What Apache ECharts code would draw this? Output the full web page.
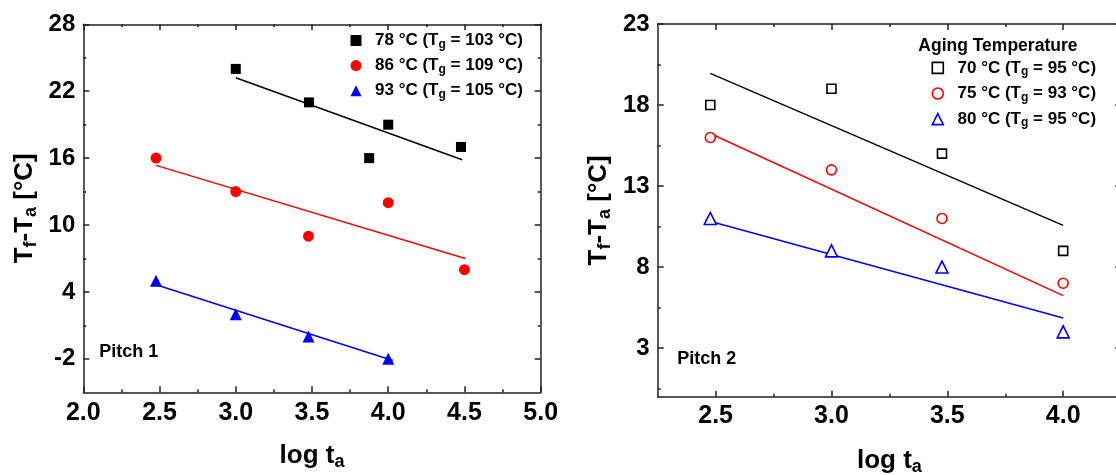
<!DOCTYPE html>
<html><head><meta charset="utf-8">
<script src="https://cdn.jsdelivr.net/npm/echarts@6/dist/echarts.min.js"></script>
<style>html,body{margin:0;padding:0;background:#fff}#c{width:1116px;height:475px}</style>
</head><body><div id="c"></div>
<script>
// ---------- Pitch 1 (left panel) ----------
const p1XTicks = [2.0, 2.5, 3.0, 3.5, 4.0, 4.5, 5.0];
const p1XMinor = [2.25, 2.75, 3.25, 3.75, 4.25, 4.75];
const p1YTicks = [-2, 4, 10, 16, 22, 28];
const p1YMinor = [1, 7, 13, 19, 25];
const p1Names = ['78 °C (Tg = 103 °C)', '86 °C (Tg = 109 °C)', '93 °C (Tg = 105 °C)'];
const p1BlackX = [3.0, 3.48, 3.875, 4.0, 4.477];
const p1BlackY = [24, 21, 16, 19, 17];
const p1RedX = [2.477, 3.0, 3.477, 4.0, 4.5];
const p1RedY = [16, 13, 9, 12, 6];
const p1BlueX = [2.477, 3.0, 3.477, 4.0];
const p1BlueY = [5, 2, 0, -2];
const p1BlackFitX = [3.0, 4.485];
const p1BlackFitY = [23.2, 15.85];
const p1RedFitX = [2.477, 4.505];
const p1RedFitY = [15.35, 7.0];
const p1BlueFitX = [2.477, 4.03];
const p1BlueFitY = [4.65, -2.15];

// ---------- Pitch 2 (right panel) ----------
const p2XTicks = [2.5, 3.0, 3.5, 4.0];
const p2XMinor = [2.75, 3.25, 3.75];
const p2YTicks = [3, 8, 13, 18, 23];
const p2YMinor = [0.5, 5.5, 10.5, 15.5, 20.5];
const p2Names = ['70 °C (Tg = 95 °C)', '75 °C (Tg = 93 °C)', '80 °C (Tg = 95 °C)'];
const p2X = [2.477, 3.0, 3.477, 4.0];
const p2BlackY = [18, 19, 15, 9];
const p2RedY = [16, 14, 11, 7];
const p2BlueY = [11, 9, 8, 4];
const p2BlackFitX = [2.477, 4.0];
const p2BlackFitY = [19.95, 10.57];
const p2RedFitX = [2.477, 4.0];
const p2RedFitY = [16.24, 6.24];
const p2BlueFitX = [2.456, 4.0];
const p2BlueFitY = [10.9, 4.86];

const FONT = '"Liberation Sans", Arial, Helvetica, sans-serif';
const zip = (xs, ys) => xs.map((x, i) => [x, ys[i]]);
const axisLineStyle = { color: '#222', width: 1.5 };

const xAxes = [], yAxes = [];
function axisSet(list, grid, pos, min, max, major, minor, labelCfg, nameCfg) {
  const base = { type: 'value', gridIndex: grid, position: pos, min: min, max: max,
    splitLine: { show: false }, axisPointer: { show: false } };
  list.push(Object.assign({}, base, {
    axisLine: { show: true, onZero: false, lineStyle: axisLineStyle },
    axisTick: { show: true, inside: true, length: 6, customValues: major, lineStyle: axisLineStyle },
    axisLabel: labelCfg ? Object.assign({ show: true, customValues: major }, labelCfg) : { show: false }
  }, nameCfg || {}));
  const idx = list.length - 1;
  list.push(Object.assign({}, base, {
    axisLine: { show: false, onZero: false },
    axisTick: { show: true, inside: true, length: 3, customValues: minor, lineStyle: axisLineStyle },
    axisLabel: { show: false }
  }));
  return idx;
}
const xLabel = (m) => ({ fontFamily: FONT, fontWeight: 'bold', fontSize: 25, color: '#000', margin: m,
  formatter: v => Number(v).toFixed(1) });
const yLabel = { fontFamily: FONT, fontWeight: 'bold', fontSize: 24, color: '#000', margin: 8,
  formatter: v => String(v) };
const titleRich = {
  b: { fontFamily: FONT, fontWeight: 'bold', fontSize: 26, color: '#000', lineHeight: 30 },
  s: { fontFamily: FONT, fontWeight: 'bold', fontSize: 18, color: '#000', lineHeight: 16, verticalAlign: 'bottom' }
};
const yName = { name: '{b|T}{s|f}{b|-T}{s|a}{b| [°C]}', nameLocation: 'middle', nameGap: 43,
  nameTextStyle: { rich: titleRich } };
const xName = { name: '{b|log t}{s|a}', nameLocation: 'middle', nameGap: 49,
  nameTextStyle: { rich: titleRich } };

// grid 0
const g0x = axisSet(xAxes, 0, 'bottom', 2, 5, p1XTicks, p1XMinor, xLabel(8), xName);
axisSet(xAxes, 0, 'top', 2, 5, p1XTicks, p1XMinor, null, null);
const g0y = axisSet(yAxes, 0, 'left', -5, 28, p1YTicks, p1YMinor, yLabel, yName);
axisSet(yAxes, 0, 'right', -5, 28, p1YTicks, p1YMinor, null, null);
// grid 1
const g1x = axisSet(xAxes, 1, 'bottom', 2.25, 4.25, p2XTicks, p2XMinor, xLabel(7), xName);
axisSet(xAxes, 1, 'top', 2.25, 4.25, p2XTicks, p2XMinor, null, null);
const g1y = axisSet(yAxes, 1, 'left', 0, 23, p2YTicks, p2YMinor, yLabel, Object.assign({}, yName, { nameGap: 44 }));
axisSet(yAxes, 1, 'right', 0, 23, p2YTicks, p2YMinor, null, null);

function scatter(name, xi, yi, symbol, size, color, hollow, data) {
  return { type: 'scatter', name: name, xAxisIndex: xi, yAxisIndex: yi, symbol: symbol, symbolSize: size,
    itemStyle: hollow ? { color: '#fff', borderColor: color, borderWidth: 1.6, opacity: 1 } : { color: color, opacity: 1 },
    data: data, z: 4, silent: true };
}
function fit(xi, yi, color, data) {
  return { type: 'line', xAxisIndex: xi, yAxisIndex: yi, symbol: 'none', showSymbol: false,
    lineStyle: { color: color, width: 1.5, opacity: 1 }, itemStyle: { color: color }, data: data, z: 3, silent: true };
}

const series = [
  fit(g0x, g0y, '#000', zip(p1BlackFitX, p1BlackFitY)),
  fit(g0x, g0y, '#ff0000', zip(p1RedFitX, p1RedFitY)),
  fit(g0x, g0y, '#0000ff', zip(p1BlueFitX, p1BlueFitY)),
  scatter(p1Names[0], g0x, g0y, 'rect', 10, '#000', false, zip(p1BlackX, p1BlackY)),
  scatter(p1Names[1], g0x, g0y, 'circle', 11, '#ff0000', false, zip(p1RedX, p1RedY)),
  scatter(p1Names[2], g0x, g0y, 'triangle', 12, '#0000ff', false, zip(p1BlueX, p1BlueY)),
  fit(g1x, g1y, '#000', zip(p2BlackFitX, p2BlackFitY)),
  fit(g1x, g1y, '#ff0000', zip(p2RedFitX, p2RedFitY)),
  fit(g1x, g1y, '#0000ff', zip(p2BlueFitX, p2BlueFitY)),
  scatter(p2Names[0], g1x, g1y, 'rect', 9, '#000', true, zip(p2X, p2BlackY)),
  scatter(p2Names[1], g1x, g1y, 'circle', 10, '#ff0000', true, zip(p2X, p2RedY)),
  scatter(p2Names[2], g1x, g1y, 'triangle', 12, '#0000ff', true, zip(p2X, p2BlueY))
];

function legendRich(pad) {
  return {
    b0: { fontFamily: FONT, fontWeight: 'bold', fontSize: 17, color: '#000', lineHeight: 20, padding: [0, 0, 0, pad] },
    b: { fontFamily: FONT, fontWeight: 'bold', fontSize: 17, color: '#000', lineHeight: 20 },
    s: { fontFamily: FONT, fontWeight: 'bold', fontSize: 12, color: '#000', lineHeight: 10, verticalAlign: 'bottom' }
  };
}
const legendFmt = name => {
  const i = name.indexOf('Tg');
  return '{b0|' + name.slice(0, i + 1) + '}{s|g}{b|' + name.slice(i + 2) + '}';
};

const option = {
  animation: false,
  backgroundColor: '#fff',
  grid: [
    { left: 83.3, top: 24.3, width: 457.4, height: 368, outerBoundsMode: 'none', containLabel: false },
    { left: 657.7, top: 24, width: 463.4, height: 372.7, outerBoundsMode: 'none', containLabel: false }
  ],
  xAxis: xAxes,
  yAxis: yAxes,
  legend: [
    { data: p1Names, orient: 'vertical', left: 350.5, top: 32, itemWidth: 11, itemHeight: 11, itemGap: 6.6,
      padding: 0, selectedMode: false, formatter: legendFmt, textStyle: { rich: legendRich(8.5) },
      itemStyle: { opacity: 1 } },
    { data: p2Names, orient: 'vertical', left: 931.5, top: 59.4, itemWidth: 11, itemHeight: 11, itemGap: 7.1,
      padding: 0, selectedMode: false, formatter: legendFmt, textStyle: { rich: legendRich(9.2) },
      itemStyle: { borderWidth: 1.6, opacity: 1 } }
  ],
  graphic: [
    { type: 'text', x: 99.3, y: 352, style: { text: 'Pitch 1', fontFamily: FONT, fontWeight: 'bold', fontSize: 18, fill: '#000', verticalAlign: 'middle', align: 'left' } },
    { type: 'text', x: 677.3, y: 359, style: { text: 'Pitch 2', fontFamily: FONT, fontWeight: 'bold', fontSize: 18, fill: '#000', verticalAlign: 'middle', align: 'left' } },
    { type: 'text', x: 918.3, y: 46, style: { text: 'Aging Temperature', fontFamily: FONT, fontWeight: 'bold', fontSize: 17.5, fill: '#000', verticalAlign: 'middle', align: 'left' } }
  ],
  series: series
};
const chart = echarts.init(document.getElementById('c'), null, { renderer: 'canvas' });
chart.setOption(option);
</script>
</body></html>
